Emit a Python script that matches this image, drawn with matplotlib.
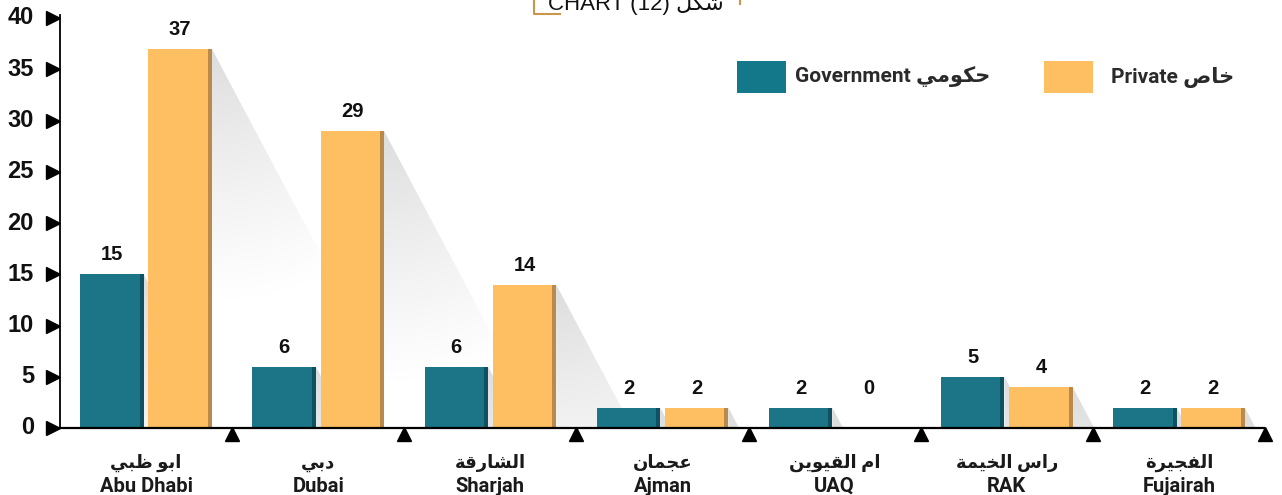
import numpy as np
import matplotlib

matplotlib.use("Agg")
import matplotlib.pyplot as plt  # noqa: E402
from matplotlib.patches import Rectangle, Polygon  # noqa: E402
from matplotlib.lines import Line2D  # noqa: E402

# data
cities_ar = ["ابو ظبي", "دبي", "الشارقة", "عجمان", "ام القيوين", "راس الخيمة", "الفجيرة"]
cities_en = ["Abu Dhabi", "Dubai", "Sharjah", "Ajman", "UAQ", "RAK", "Fujairah"]
government = [15, 6, 6, 2, 2, 5, 2]
private = [37, 29, 14, 2, 0, 4, 2]
y_ticks = [0, 5, 10, 15, 20, 25, 30, 35, 40]

GOV = "#1c7487"
GOV_EDGE = "#0f5160"
PRI = "#fdbf62"
PRI_EDGE = "#b98a4c"

# tiny Arabic shaper (matplotlib has no shaping / bidi)
FORMS = {
    "ا": (0xFE8D, 2), "ب": (0xFE8F, 4), "ة": (0xFE93, 2), "ج": (0xFE9D, 4),
    "ح": (0xFEA1, 4), "خ": (0xFEA5, 4), "د": (0xFEA9, 2), "ر": (0xFEAD, 2),
    "س": (0xFEB1, 4), "ش": (0xFEB5, 4), "ص": (0xFEB9, 4), "ظ": (0xFEC5, 4),
    "ع": (0xFEC9, 4), "ف": (0xFED1, 4), "ق": (0xFED5, 4), "ك": (0xFED9, 4),
    "ل": (0xFEDD, 4), "م": (0xFEE1, 4), "ن": (0xFEE5, 4), "و": (0xFEED, 2),
    "ي": (0xFEF1, 4),
}


def ar(word):
    out = []
    for i, ch in enumerate(word):
        if ch not in FORMS:
            out.append(ch)
            continue
        base, n = FORMS[ch]
        prev = word[i - 1] if i > 0 else ""
        nxt = word[i + 1] if i + 1 < len(word) else ""
        jp = prev in FORMS and FORMS[prev][1] == 4
        jn = n == 4 and nxt in FORMS
        off = 3 if (jp and jn) else 1 if jp else 2 if jn else 0
        out.append(chr(base + off))
    return "".join(reversed(out))


LABEL_FONT = ["Roboto", "DejaVu Sans"]
NUM_FONT = ["Liberation Sans", "DejaVu Sans"]

W, H = 1282, 495
fig = plt.figure(figsize=(W / 100, H / 100), dpi=100)
ax = fig.add_axes([60 / W, 67 / H, 1205 / W, 410 / H])
ax.set_xlim(-0.5, len(cities_en) - 0.5)
ax.set_ylim(0, 40)
for s in ax.spines.values():
    s.set_visible(False)
ax.set_xticks([])
ax.set_yticks([])

px_x = 1205 / len(cities_en)  # pixels per x unit
px_y = 410 / 40  # pixels per y unit
x = np.arange(len(cities_en))
bw = 0.368
off = 0.198
strip = 4 / px_x


def shadow(xr, h):
    if h <= 0:
        return
    dx = 0.53 * h * px_y / px_x
    nx, ny = 80, 160
    xs = np.linspace(xr, xr + dx, nx)
    ys = np.linspace(0, h, ny)
    XX, YY = np.meshgrid(xs, ys)
    d = np.hypot((XX - xr) * px_x, (h - YY) * px_y)
    c = 0.86 + 0.14 * np.clip(d / 250, 0, 1) ** 0.8
    img = np.dstack([c, c, np.minimum(c * 1.005, 1)])
    im = ax.imshow(img, extent=[xr, xr + dx, 0, h], origin="lower",
                   aspect="auto", zorder=1, interpolation="bilinear")
    poly = Polygon([[xr, h], [xr + dx, 0], [xr, 0]], closed=True,
                   transform=ax.transData, facecolor="none", edgecolor="none")
    ax.add_patch(poly)
    im.set_clip_path(poly)


for xi, g, p in zip(x, government, private):
    for xc, v, col, ecol in [(xi - off, g, GOV, GOV_EDGE), (xi + off, p, PRI, PRI_EDGE)]:
        shadow(xc + bw / 2, v)
        ax.bar(xc, v, bw, color=col, zorder=2, linewidth=0)
        ax.bar(xc + bw / 2 - strip / 2, v, strip, color=ecol, zorder=3, linewidth=0)
        ax.annotate(str(v), (xc, max(v, 2)), xytext=(0, 14), textcoords="offset points",
                    ha="center", va="center", fontsize=14.5, fontweight="bold",
                    family=NUM_FONT, color="#111111", zorder=4)

ax.set_xlim(-0.5, len(cities_en) - 0.5)
ax.set_ylim(0, 40)

# axes lines
ax.plot([-0.5, len(cities_en) - 0.5], [0, 0], color="black", lw=1.6, zorder=5,
        clip_on=False, solid_capstyle="butt")
ax.plot([-0.5, -0.5], [0, 40.3], color="black", lw=1.3, zorder=5, clip_on=False)

# separator triangles under the baseline
sep = x + 0.5
ax.plot(sep, np.full(len(sep), -0.55), linestyle="none", marker="^", ms=10,
        color="black", clip_on=False, zorder=5)

# y ticks as right-pointing triangles
ax.plot(np.full(len(y_ticks), -7.5 / 1205), y_ticks, linestyle="none", marker=">",
        ms=10, color="black", clip_on=False, transform=ax.get_yaxis_transform())
for t in y_ticks:
    ax.text(-26 / 1205, t, str(t), transform=ax.get_yaxis_transform(), ha="right",
            va="center", fontsize=17, fontweight="bold", family=NUM_FONT, color="#111111")

# category labels
for xi, a, e in zip(x, cities_ar, cities_en):
    ax.text(xi, -35 / 410, ar(a), transform=ax.get_xaxis_transform(), ha="center",
            va="center", fontsize=13, fontweight="bold", family=LABEL_FONT, color="#1a1a1a")
    ax.text(xi, -58 / 410, e, transform=ax.get_xaxis_transform(), ha="center",
            va="center", fontsize=14.5, fontweight="bold", family=LABEL_FONT, color="#1a1a1a")

# legend
for x0, tx, col, lab in [(737, 795, "#13788a", "Government " + ar("حكومي")),
                         (1044, 1111, PRI, "Private " + ar("خاص"))]:
    fig.add_artist(Rectangle((x0 / W, 1 - 93 / H), 49 / W, 32 / H, transform=fig.transFigure,
                             facecolor=col, edgecolor="none"))
    fig.text(tx / W, 1 - 77 / H, lab, ha="left", va="center", fontsize=15,
             fontweight="bold", family=LABEL_FONT, color="#2a2a2a")

# title, cut at the top edge
fig.text(636 / W, 1 - 10 / H, "CHART (12) " + ar("شكل"), ha="center", va="baseline",
         fontsize=16, family=["Liberation Sans", "DejaVu Sans"], color="#111111")
fig.add_artist(Line2D([534 / W, 534 / W, 560 / W], [1, 1 - 14 / H, 1 - 14 / H],
                      transform=fig.transFigure, color="#c9964c", lw=1.5))
fig.add_artist(Line2D([740 / W, 740 / W], [1, 1 - 4 / H],
                      transform=fig.transFigure, color="#c9964c", lw=1.5))

fig.savefig("out.png", dpi=100, facecolor="white")
